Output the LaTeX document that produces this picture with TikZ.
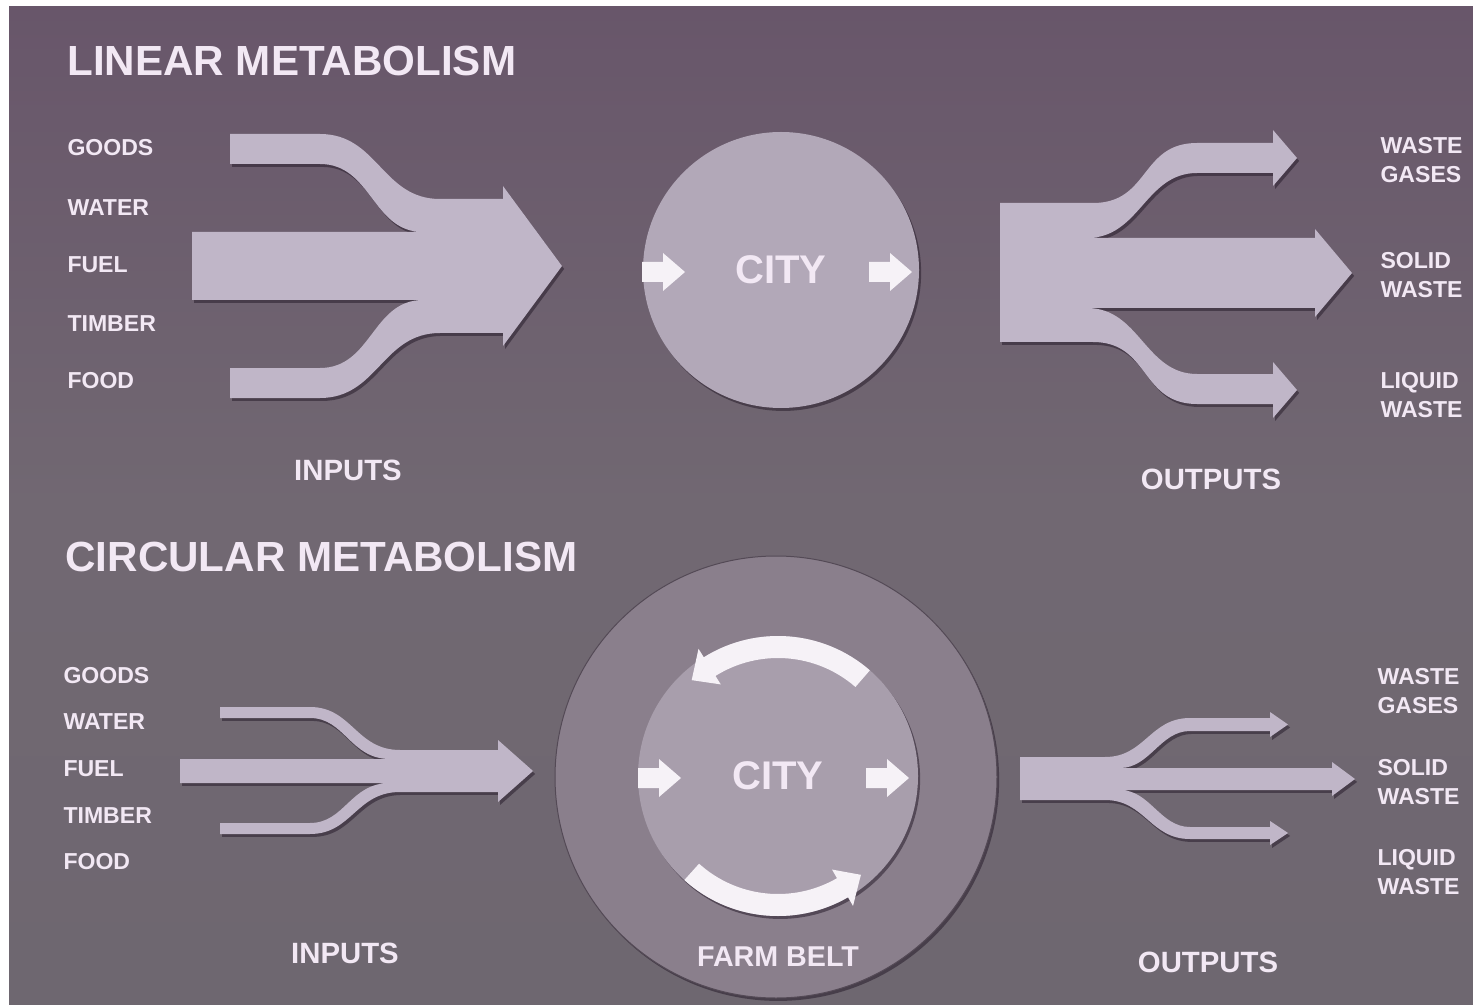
\documentclass[tikz,border=0pt]{standalone}
\usepackage{fontspec}
\setmainfont{Liberation Sans}
\usetikzlibrary{shadows}

\tikzset{every picture/.style={line width=0.75pt}}
\tikzset{
  softshadow/.style={drop shadow={shadow xshift=1.6pt, shadow yshift=-2.2pt, opacity=0.55, fill={rgb, 255:red, 40; green, 30; blue, 44 }}},
  flowarrow/.style={fill={rgb, 255:red, 192; green, 182; blue, 200 }, softshadow},
  citydisc/.style={circle, inner sep=0pt, fill={rgb, 255:red, 178; green, 168; blue, 184 }, softshadow, paletext, font=\bfseries\fontsize{30}{36}\selectfont},
  beltdisc/.style={circle, inner sep=0pt, fill={rgb, 255:red, 138; green, 127; blue, 140 }, draw={rgb, 255:red, 84; green, 74; blue, 86 }, softshadow},
  whitearrow/.style={fill={rgb, 255:red, 246; green, 242; blue, 247 }},
  paletext/.style={text={rgb, 255:red, 242; green, 232; blue, 244 }, inner sep=0pt},
  titletext/.style={paletext, anchor=west, font=\bfseries\fontsize{31.6}{36}\selectfont},
  flowlabel/.style={paletext, anchor=west, align=left, font=\bfseries\fontsize{17.3}{21.75}\selectfont},
  sidetext/.style={paletext, font=\bfseries\fontsize{22}{26}\selectfont},
  smallarrow/.pic={\fill[whitearrow] (0,-10) -- (21,-10) -- (21,-19) -- (43,0) -- (21,19) -- (21,10) -- (0,10) -- cycle ;}
}

\begin{document}
\begin{tikzpicture}[x=0.75pt,y=0.75pt,yscale=-1,xscale=1]
\useasboundingbox (0,0) rectangle (1473,1005);
\fill[white] (0,0) rectangle (1473,1005);
%Shape: Rectangle (background)
\shade[top color={rgb, 255:red, 104; green, 86; blue, 106 }, bottom color={rgb, 255:red, 110; green, 103; blue, 112 }, middle color={rgb, 255:red, 113; green, 104; blue, 114 }] (9,7) rectangle (1473,1005);

%%% linear metabolism
\node[titletext] (lintitle) at (67,60.5) {LINEAR METABOLISM};

\node[flowlabel] (goods1) at (67,148) {GOODS};
\node[flowlabel] (water1) at (67,207.5) {WATER};
\node[flowlabel] (fuel1) at (67,265) {FUEL};
\node[flowlabel] (timber1) at (67,323.5) {TIMBER};
\node[flowlabel] (food1) at (67,381) {FOOD};

%Shape: Arrow (inputs)
\fill[flowarrow] (192,232) -- (423,232) .. controls (372,232) and (372,164) .. (320,164) -- (230,164) -- (230,134) -- (320,134) .. controls (378,134) and (382,199) .. (440,199) -- (503,199) -- (503,186) -- (562,266) -- (503,346) -- (503,333) -- (440,333) .. controls (382,333) and (378,398) .. (320,398) -- (230,398) -- (230,368) -- (320,368) .. controls (372,368) and (372,300) .. (423,300) -- (192,300) -- cycle ;

%Shape: Circle
\node[citydisc, minimum size=207pt] (city1) at (781,270) {CITY};
\pic at (642,272) {smallarrow};
\pic at (869,272) {smallarrow};

%Shape: Arrow (outputs)
\fill[flowarrow] (1000,203) -- (1093,203) .. controls (1150,203) and (1140,143) .. (1197,143) -- (1273,143) -- (1273,130) -- (1297,158) -- (1273,186) -- (1273,173) -- (1197,173) .. controls (1145,173) and (1140,238) .. (1087,238) -- (1315,238) -- (1315,229) -- (1352,273) -- (1315,317) -- (1315,308) -- (1087,308) .. controls (1140,308) and (1145,374) .. (1197,374) -- (1273,374) -- (1273,362) -- (1297,390) -- (1273,418) -- (1273,404) -- (1197,404) .. controls (1140,404) and (1150,342) .. (1093,342) -- (1000,342) -- cycle ;

\node[flowlabel] (gases1) at (1380,160.5) {WASTE\\GASES};
\node[flowlabel] (solid1) at (1380,275.5) {SOLID\\WASTE};
\node[flowlabel] (liquid1) at (1380,395) {LIQUID\\WASTE};

\node[sidetext] (inputs1) at (348,470) {INPUTS};
\node[sidetext] (outputs1) at (1211,479) {OUTPUTS};

%%% circular metabolism
\node[titletext] (circtitle) at (65,557) {CIRCULAR METABOLISM};

\node[flowlabel] (goods2) at (63,676) {GOODS};
\node[flowlabel] (water2) at (63,722) {WATER};
\node[flowlabel] (fuel2) at (63,769) {FUEL};
\node[flowlabel] (timber2) at (63,816) {TIMBER};
\node[flowlabel] (food2) at (63,862) {FOOD};

%Shape: Arrow (inputs)
\fill[flowarrow] (180,759) -- (390,759) .. controls (350,759) and (345,718) .. (310,718) -- (220,718) -- (220,707) -- (310,707) .. controls (352,707) and (356,750) .. (400,750) -- (498,750) -- (498,740) -- (533,771) -- (498,802) -- (498,792) -- (400,792) .. controls (356,792) and (352,834) .. (310,834) -- (220,834) -- (220,823) -- (310,823) .. controls (345,823) and (350,783) .. (390,783) -- (180,783) -- cycle ;

%Shape: Circle (farm belt)
\node[beltdisc, minimum size=331.5pt] (belt) at (776,777) {};
%Shape: Circle (city)
\node[citydisc, fill={rgb, 255:red, 168; green, 158; blue, 172 }, minimum size=210pt] (city2) at (778,776) {CITY};
\pic at (638,778) {smallarrow};
\pic at (866,778) {smallarrow};

%Shape: Arc arrows
\begin{scope}[shift={(778,776)}]
\fill[whitearrow] (-49:140) arc[start angle=-49, end angle=-122, radius=140] -- (-122:150) -- (-132:129) -- (-122:108) -- (-122:118) arc[start angle=-122, end angle=-49, radius=118] -- cycle ;
\fill[whitearrow] (-228:140) arc[start angle=-228, end angle=-300, radius=140] -- (-300:150) -- (-310:129) -- (-300:108) -- (-300:118) arc[start angle=-300, end angle=-228, radius=118] -- cycle ;
\end{scope}

\node[paletext, font=\bfseries\fontsize{21.5}{26}\selectfont] (farmbelt) at (778,957) {FARM BELT};

%Shape: Arrow (outputs)
\fill[flowarrow] (1020,757) -- (1105,757) .. controls (1145,757) and (1150,718) .. (1190,718) -- (1270,718) -- (1270,712) -- (1288,724.5) -- (1270,737) -- (1270,731) -- (1190,731) .. controls (1160,731) and (1150,768) .. (1120,768) -- (1332,768) -- (1332,762) -- (1355,779) -- (1332,796) -- (1332,790) -- (1120,790) .. controls (1150,790) and (1160,827) .. (1190,827) -- (1270,827) -- (1270,821) -- (1288,833) -- (1270,845) -- (1270,839) -- (1190,839) .. controls (1150,839) and (1145,800) .. (1105,800) -- (1020,800) -- cycle ;

\node[flowlabel] (gases2) at (1377,691.5) {WASTE\\GASES};
\node[flowlabel] (solid2) at (1377,782.5) {SOLID\\WASTE};
\node[flowlabel] (liquid2) at (1377,872) {LIQUID\\WASTE};

\node[sidetext] (inputs2) at (345,953) {INPUTS};
\node[sidetext] (outputs2) at (1208,962) {OUTPUTS};

\end{tikzpicture}
\end{document}
